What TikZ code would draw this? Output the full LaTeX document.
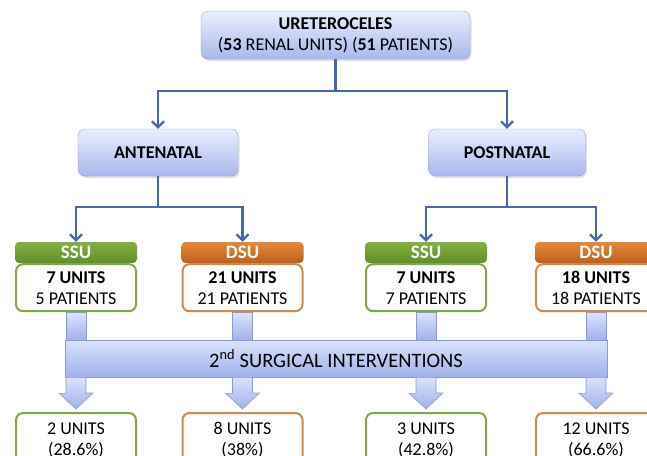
\documentclass[tikz,border=0pt]{standalone}
\usepackage{fontspec}
\setmainfont{Carlito}
\usetikzlibrary{arrows.meta,calc,positioning,shadows}

\definecolor{linkblue}{RGB}{70,104,178}
\definecolor{boxtop}{RGB}{234,238,253}
\definecolor{boxbot}{RGB}{168,184,236}
\definecolor{boxedge}{RGB}{146,162,216}
\definecolor{ssugreen}{RGB}{130,176,64}
\definecolor{ssudark}{RGB}{96,142,42}
\definecolor{ssuedge}{RGB}{128,168,68}
\definecolor{dsuorange}{RGB}{230,136,58}
\definecolor{dsudark}{RGB}{188,96,30}
\definecolor{dsuedge}{RGB}{214,136,70}
\definecolor{bandtop}{RGB}{218,226,251}
\definecolor{bandbot}{RGB}{160,178,234}
\definecolor{arrowedge}{RGB}{136,154,214}

\begin{document}
\begin{tikzpicture}[x=1pt,y=-1pt,>={Straight Barb[length=6pt,width=12pt]},
  every node/.style={font=\fontsize{18}{21}\selectfont,align=center,inner sep=0pt},
  link/.style={draw=linkblue,line width=2.2pt},
  bluebox/.style={draw=boxedge,rounded corners=7pt,top color=boxtop,bottom color=boxbot,
    drop shadow={opacity=.25,shadow xshift=1.5pt,shadow yshift=-2pt}},
  head/.style={rounded corners=4pt,minimum width=122pt,minimum height=21pt,text=white,
    font=\fontsize{19}{21}\selectfont\bfseries},
  ssuhead/.style={head,top color=ssugreen,bottom color=ssudark},
  dsuhead/.style={head,top color=dsuorange,bottom color=dsudark},
  unitbox/.style={fill=white,line width=2pt,rounded corners=7pt,minimum width=120pt,minimum height=47pt},
  ssubox/.style={unitbox,draw=ssuedge},
  dsubox/.style={unitbox,draw=dsuedge},
  blockarrow/.style={draw=arrowedge,top color=bandtop,bottom color=bandbot,line width=.6pt}]
  \useasboundingbox (0,0) rectangle (647,455);
  \clip (0,0) rectangle (647,455);

  \node[bluebox,minimum width=269pt,minimum height=48pt] (ureter) at (335.5,35)
    {\textbf{URETEROCELES}\\(\textbf{53} RENAL UNITS) (\textbf{51} PATIENTS)};
  \node[bluebox,minimum width=160pt,minimum height=47pt,font=\fontsize{18}{21}\selectfont\bfseries]
    (ante) at (158,152.5) {ANTENATAL};
  \node[bluebox,minimum width=157pt,minimum height=47pt,font=\fontsize{18}{21}\selectfont\bfseries]
    (post) at (507,152.5) {POSTNATAL};

  \foreach \c/\x/\kind/\nu/\np/\ru/\rp in {A1/76/ssu/7/5/2/28.6,A2/242.5/dsu/21/21/8/38,
      P1/426/ssu/7/7/3/42.8,P2/596/dsu/18/18/12/66.6} {
    \node[\kind head] (h\c) at (\x,252.5) {\MakeUppercase{\kind}};
    \node[\kind box,below=0pt of h\c] (u\c) {\textbf{\nu{} UNITS}\\\np{} PATIENTS};
    \node[\kind box,minimum height=54pt,anchor=north] (r\c) at (\x,412) {\ru{} UNITS\\(\rp\%)};
    \path[blockarrow] ($(u\c.south)+(-10,0)$) rectangle ($(u\c.south)+(10,28)$);
  }

  \coordinate (splitT) at ($(ureter.south)+(0,32)$);
  \coordinate (splitA) at ($(ante.south)+(0,31)$);
  \coordinate (splitP) at ($(post.south)+(0,31)$);
  \draw[link] (ureter) -- (splitT);
  \draw[link,->] (splitT) -| (ante);
  \draw[link,->] (splitT) -| (post);
  \draw[link] (ante) -- (splitA);
  \draw[link,->] (splitA) -| (hA1);
  \draw[link,->] (splitA) -| (hA2);
  \draw[link] (post) -- (splitP);
  \draw[link,->] (splitP) -| (hP1);
  \draw[link,->] (splitP) -| (hP2);

  \node[blockarrow,minimum width=542pt,minimum height=37pt,font=\fontsize{20.5}{22}\selectfont]
    (band) at (336,358.5) {2\textsuperscript{nd} SURGICAL INTERVENTIONS};

  \foreach \c in {A1,A2,P1,P2} {
    \path[blockarrow] ($(band.south -| r\c)+(-10,0)$) -- ++(0,16) -- ++(-7,0)
      -- ($(r\c.north)+(0,-3)$) -- ++(17,-16) -- ++(-7,0) -- ($(band.south -| r\c)+(10,0)$) -- cycle;
  }
\end{tikzpicture}
\end{document}
